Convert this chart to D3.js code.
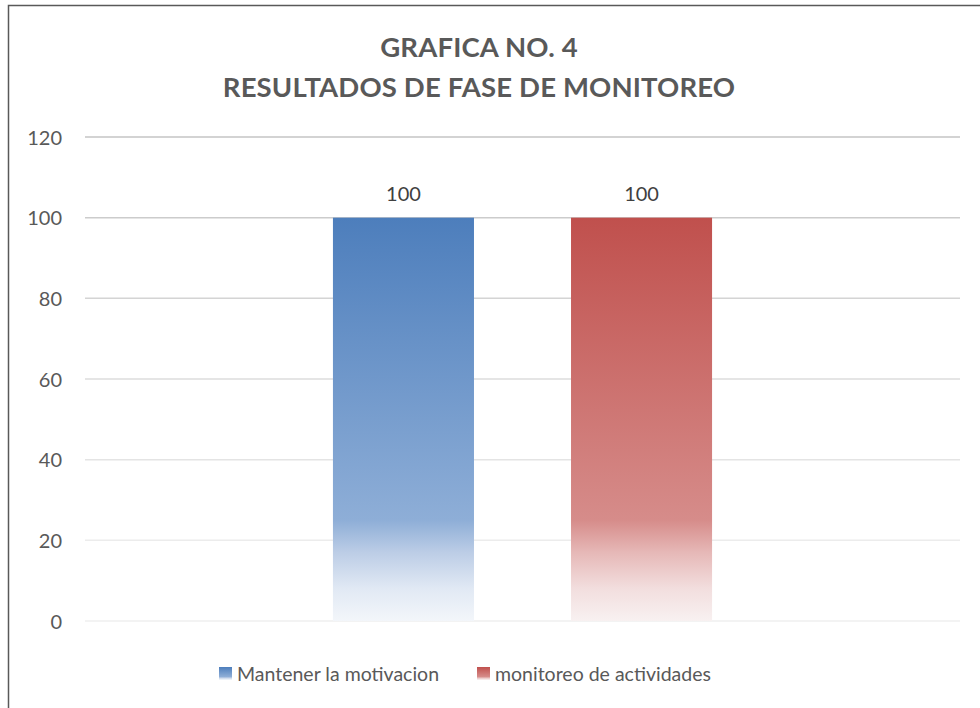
<!DOCTYPE html>
<html><head><meta charset="utf-8">
<script src="https://cdn.jsdelivr.net/npm/d3@7"></script>
<style>html,body{margin:0;padding:0;background:#fff;overflow:hidden}</style>
</head><body>
<svg id="chart" width="980" height="708"></svg>
<script>
const titleLines = ["GRAFICA NO. 4", "RESULTADOS DE FASE DE MONITOREO"];
const categories = ["Fase de monitoreo"];
const seriesNames = ["Mantener la motivacion", "monitoreo de actividades"];
const seriesValues = [[100], [100]];
const yTicks = [0, 20, 40, 60, 80, 100, 120];
const seriesColors = [
  ["#4d7ebc", "#8eaed7", "#bccde6", "#e1e9f4", "#f3f6fa"],
  ["#c0504d", "#d68c8a", "#e6b8b7", "#f2dede", "#f8f1f1"]
];
const stopOffsets = [0, 0.75, 0.83, 0.92, 1];

const svg = d3.select("#chart");
const font = "Lato, 'Open Sans', sans-serif";
const textColor = "#595959";

// frame
svg.append("rect").attr("x", 8.5).attr("y", 5.5).attr("width", 1000).attr("height", 800)
  .attr("fill", "#fff").attr("stroke", "#595959").attr("stroke-width", 1.5);

const defs = svg.append("defs");
seriesColors.forEach((cols, i) => {
  const g = defs.append("linearGradient").attr("id", "grad" + i)
    .attr("x1", 0).attr("y1", 0).attr("x2", 0).attr("y2", 1);
  cols.forEach((c, j) => g.append("stop").attr("offset", stopOffsets[j]).attr("stop-color", c));
});

const plot = {left: 85, right: 960, top: 137, bottom: 621};
const y = d3.scaleLinear().domain([0, 120]).range([plot.bottom, plot.top]);
const x0 = d3.scaleBand().domain(categories).range([plot.left, plot.right]).paddingInner(0).paddingOuter(0.654);
const x1 = d3.scaleBand().domain(seriesNames).range([0, x0.bandwidth()]).paddingInner(0.4076).paddingOuter(0);

// gridlines
const gridColor = d3.scaleLinear().domain([0, 20, 120]).range(["#efefef", "#ececec", "#c4c4c4"]);
svg.append("g").selectAll("line").data(yTicks).join("line")
  .attr("x1", plot.left).attr("x2", plot.right)
  .attr("y1", d => y(d)).attr("y2", d => y(d))
  .attr("stroke", d => gridColor(d)).attr("stroke-width", 1.5);

// y axis labels
const yAxis = d3.axisLeft(y).tickValues(yTicks).tickSize(0).tickPadding(0);
const ga = svg.append("g").attr("transform", `translate(${plot.left - 23},0)`).call(yAxis);
ga.select(".domain").remove();
ga.selectAll("text").attr("font-family", font).attr("font-size", 20).attr("fill", textColor).attr("dy", "0.35em");

// bars
const cat = categories[0];
seriesNames.forEach((s, i) => {
  const v = seriesValues[i][0];
  const bx = x0(cat) + x1(s);
  svg.append("rect").attr("x", bx).attr("y", y(v)).attr("width", x1.bandwidth())
    .attr("height", y(0) - y(v)).attr("fill", `url(#grad${i})`);
  svg.append("text").attr("x", bx + x1.bandwidth() / 2).attr("y", y(v) - 17)
    .attr("text-anchor", "middle").attr("font-family", font).attr("font-size", 20)
    .attr("fill", "#404040").text(v);
});

// title
svg.append("g").selectAll("text").data(titleLines).join("text")
  .attr("x", 479).attr("y", (d, i) => 57 + i * 40)
  .attr("text-anchor", "middle").attr("font-family", font).attr("font-weight", "bold")
  .attr("font-size", 27.5).attr("letter-spacing", 0.15).attr("fill", textColor).text(d => d);

// legend
const legendX = [219, 477];
const lg = svg.append("g");
seriesNames.forEach((s, i) => {
  lg.append("rect").attr("x", legendX[i]).attr("y", 667).attr("width", 13).attr("height", 13)
    .attr("fill", `url(#grad${i})`);
  lg.append("text").attr("x", legendX[i] + 18).attr("y", 681)
    .attr("font-family", font).attr("font-size", 19.5).attr("fill", textColor).text(s);
});
</script>
</body></html>
